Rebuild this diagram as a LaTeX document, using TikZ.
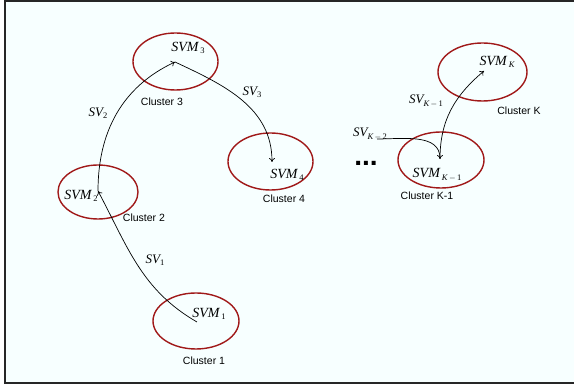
\documentclass[tikz,border=0pt]{standalone}
\usepackage{fontspec}
\setmainfont{Liberation Serif}
\newfontfamily\arialf{Liberation Sans}
\usetikzlibrary{shapes.geometric,arrows.meta}
\definecolor{bgc}{RGB}{247,255,255}
\definecolor{ringc}{RGB}{160,25,25}
\newcommand{\svlab}[2]{{\fontsize{14}{14}\selectfont\itshape #1}\hspace{2pt}\raisebox{-2.5pt}{\fontsize{8.5}{8.5}\selectfont #2}}
\newcommand{\svsm}[2]{{\fontsize{13}{13}\selectfont\itshape #1}\raisebox{-2.5pt}{\fontsize{8.5}{8.5}\selectfont #2}}
\begin{document}
\begin{tikzpicture}[x=1pt,y=-1pt,
  ring/.style={ellipse, draw=ringc, line width=1.4pt, inner sep=0pt},
  clab/.style={font=\arialf\fontsize{10.5}{10.5}\selectfont, inner sep=0pt},
  mlab/.style={inner sep=0pt},
  conn/.style={-{To[length=4pt,width=6pt]}, line width=0.7pt, black}]
\useasboundingbox (0,0) rectangle (574,387);
\fill[bgc] (5,1) rectangle (574,383);
\draw[line width=1.4pt, black!85] (574,1) -- (5,1) -- (5,383) -- (574,383);
% ellipses
\node[ring, minimum width=85pt, minimum height=57pt] (c3) at (175.5,61.5) {};
\node[ring, minimum width=85pt, minimum height=57pt] (c4) at (270.5,161.5) {};
\node[ring, minimum width=80pt, minimum height=54pt] (c2) at (98,192) {};
\node[ring, minimum width=86pt, minimum height=56pt] (c1) at (196,321) {};
\node[ring, minimum width=89pt, minimum height=58pt] (cK) at (482.5,72) {};
\node[ring, minimum width=86pt, minimum height=56pt] (cK1) at (441,160) {};
% SVM labels
\node[mlab] (s3) at (188,48) {\svlab{SVM}{3}};
\node[mlab] (s4) at (287,175) {\svlab{SVM}{4}};
\node[mlab] (s2) at (81,196) {\svlab{SVM}{2}};
\node[mlab] (s1) at (209,314) {\svlab{SVM}{1}};
\node[mlab] (sK) at (497,62) {\svlab{SVM}{\itshape K}};
\node[mlab] (sK1) at (437,175) {\svlab{SVM}{{\itshape K}\,$-$\,1}};
% cluster labels
\node[clab] (l3) at (162,102) {Cluster 3};
\node[clab] (l4) at (284,199) {Cluster 4};
\node[clab] (l2) at (144,218) {Cluster 2};
\node[clab] (l1) at (204,361) {Cluster 1};
\node[clab] (lK) at (519,111) {Cluster K};
\node[clab] (lK1) at (427,196) {Cluster K-1};
% SV labels
\node[mlab] (v1) at (155,260) {\svsm{SV}{1}};
\node[mlab] (v2) at (98,113) {\svsm{SV}{2}};
\node[mlab] (v3) at (252,92) {\svsm{SV}{3}};
\node[mlab] (vK2) at (370,134) {\svsm{SV}{{\itshape K}\,$-$\,2}};
\node[mlab] (vK1) at (426,101) {\svsm{SV}{{\itshape K}\,$-$\,1}};
\node[inner sep=0pt, font=\arialf\bfseries\fontsize{28}{28}\selectfont] (dots) at (366,163) {...};
% arrow end points
\coordinate (p1) at (197,322);
\coordinate (p2) at (98,191);
\coordinate (p3) at (175,62);
\coordinate (p4) at (272,162);
\coordinate (q0) at (377,139);
\coordinate (q1) at (440,159);
\coordinate (q2) at (484,71);
% connectors
\draw[conn] (p1) to[out=150, in=-62] (p2);
\draw[conn] (p2) to[out=90, in=205] (p3);
\draw[conn] (p3) to[out=-25, in=90] (p4);
\draw[conn] (q0) to[out=0, in=90] (q1);
\draw[conn] (q1) to[out=90, in=220] (q2);
\end{tikzpicture}
\end{document}
